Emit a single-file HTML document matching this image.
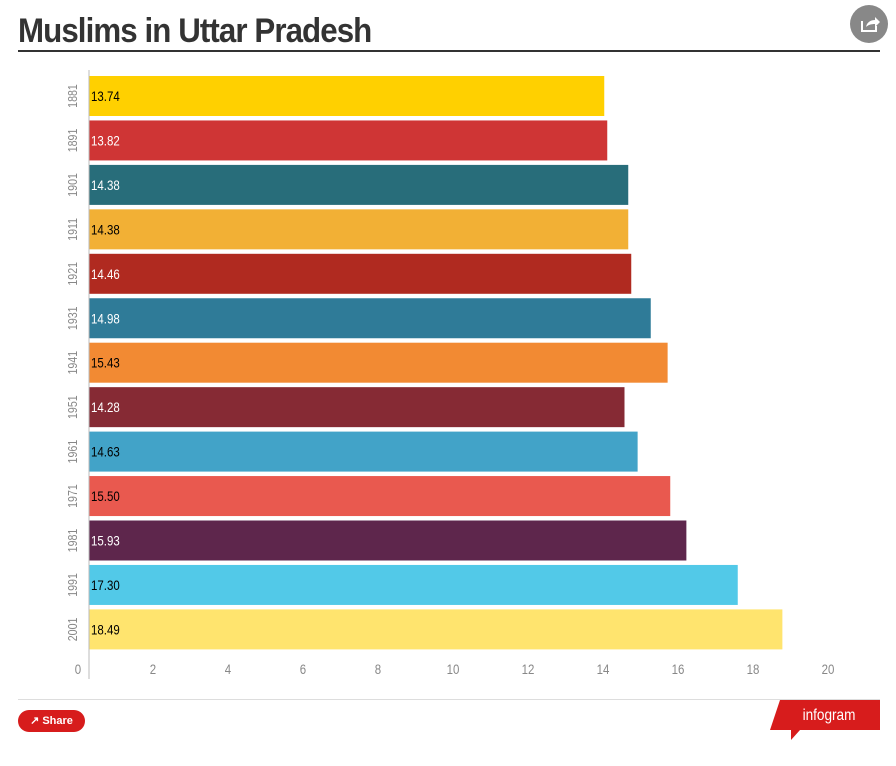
<!DOCTYPE html>
<html><head><meta charset="utf-8"><style>
body{margin:0;background:#fff;width:896px;height:766px;overflow:hidden;font-family:"Liberation Sans Narrow","Liberation Sans",sans-serif;}
#title{position:absolute;left:18px;top:12px;font-size:34px;font-weight:bold;color:#333;letter-spacing:-1px;transform:scaleX(0.92);transform-origin:left;}
#rule{position:absolute;left:18px;top:50px;width:862px;height:2px;background:#333;}
#share-circle{position:absolute;left:850px;top:5px;width:38px;height:38px;border-radius:50%;background:#888;}
#foot-rule{position:absolute;left:18px;top:699px;width:862px;height:1px;background:#ddd;}
#share-btn{position:absolute;left:18px;top:710px;width:67px;height:22px;border-radius:11px;background:#d71c1c;color:#fff;font-size:11px;font-weight:bold;line-height:22px;text-align:center;}
</style></head><body>
<div id="title">Muslims in Uttar Pradesh</div>
<div id="rule"></div>
<div id="share-circle"><svg width="38" height="38"><path d="M12 16v10h14v-5" fill="none" stroke="#fff" stroke-width="2"/><path d="M16 22c1-5 5-7 9-7v-3l5 5-5 5v-3c-4 0-7 1-9 3z" fill="#fff"/></svg></div>
<svg id="chart" width="896" height="766" style="position:absolute;left:0;top:0"></svg>
<div id="foot-rule"></div>
<div id="share-btn">&#x2197; Share</div>
<svg style="position:absolute;left:770px;top:700px" width="112" height="42"><polygon points="10,0 110,0 110,30 30,30 21,40 21,30 0,30" fill="#d71c1c"/><text x="59" y="20" fill="#fff" font-size="16" text-anchor="middle" transform="translate(59,0) scale(0.85,1) translate(-59,0)" font-family="Liberation Sans Narrow, Liberation Sans, sans-serif">infogram</text></svg>
<script>
const categories=["1881","1891","1901","1911","1921","1931","1941","1951","1961","1971","1981","1991","2001"];
const values=[13.74,13.82,14.38,14.38,14.46,14.98,15.43,14.28,14.63,15.50,15.93,17.30,18.49];
const labels=["13.74","13.82","14.38","14.38","14.46","14.98","15.43","14.28","14.63","15.50","15.93","17.30","18.49"];
const ticks=[0,2,4,6,8,10,12,14,16,18,20];
const colors=["#ffd000","#cf3535","#286d7a","#f2b035","#b02a20","#2f7b98","#f28a33","#862a34","#42a3c8","#e9594f","#5e264c","#52c9e8","#ffe46e"];
const textColors=["#000","#fff","#fff","#000","#fff","#fff","#000","#fff","#000","#000","#fff","#000","#000"];
const svg=document.getElementById('chart');
const NS='http://www.w3.org/2000/svg';
const x0=89,k=37.5;
const xs=v=>x0+v*k;
const yTop=i=>76+i*44.45;
const bh=40;
function mk(t,a){const e=document.createElementNS(NS,t);for(const n in a)e.setAttribute(n,a[n]);svg.appendChild(e);return e;}
const FF='Liberation Sans Narrow, Liberation Sans, sans-serif';
categories.forEach((c,i)=>{
 const r=mk('rect',{x:x0,y:yTop(i),width:xs(values[i])-x0,height:bh,fill:colors[i]});
 
 
 const ty=yTop(i)+bh/2+5;
 const t=mk('text',{x:0,y:0,'font-size':14,fill:textColors[i],transform:'translate('+(x0+2)+','+ty+') scale(0.82,1)','font-family':FF});
 t.textContent=labels[i];
 
 
 const cy=yTop(i)+bh/2;
 const yl=mk('text',{x:0,y:0,'font-size':13,fill:'#888','text-anchor':'middle',transform:'translate(77,'+cy+') rotate(-90) scale(0.82,1)','font-family':FF});
 yl.textContent=c;
 
 
});
const ax=mk('line',{x1:x0,x2:x0,y1:70,y2:679,stroke:'#bbb','stroke-width':1});


ticks.forEach(v=>{
 const t=mk('text',{x:0,y:0,'font-size':14,fill:'#888','text-anchor':'middle',transform:'translate('+(xs(v)-11)+',674) scale(0.82,1)','font-family':FF});
 t.textContent=v;
 
 
});
</script>
</body></html>
